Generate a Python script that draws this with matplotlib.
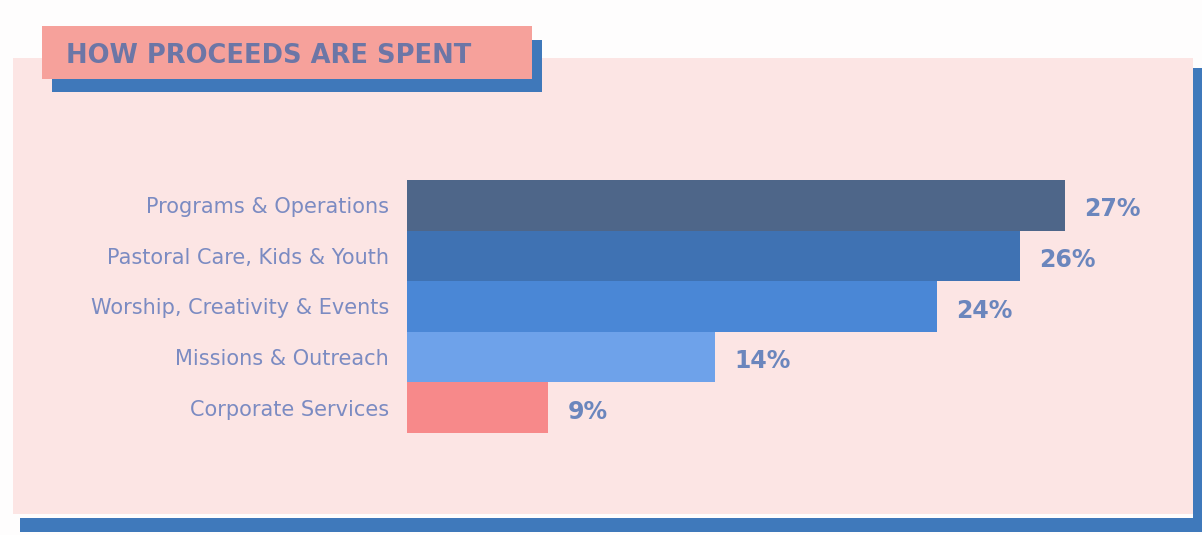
import matplotlib.pyplot as plt
from matplotlib.patches import Rectangle

categories = ['Programs & Operations', 'Pastoral Care, Kids & Youth',
              'Worship, Creativity & Events', 'Missions & Outreach',
              'Corporate Services']
value_labels = ['27%', '26%', '24%', '14%', '9%']
# bar lengths as drawn in the picture (not strictly proportional to the labels)
bar_lengths = [27.0, 25.15, 21.75, 12.64, 5.79]
bar_colors = ['#4e6689', '#3f72b3', '#4a87d6', '#6ea2ea', '#f7898a']

W, H = 1202, 535
fig = plt.figure(figsize=(W / 100, H / 100), dpi=100)
fig.patch.set_facecolor('#fefdfd')

# background decorations in pixel coordinates
bg = fig.add_axes([0, 0, 1, 1])
bg.set_xlim(0, W)
bg.set_ylim(H, 0)
bg.axis('off')
bg.add_patch(Rectangle((20, 518), 1182, 14, color='#3f79bb', lw=0))
bg.add_patch(Rectangle((1193, 68), 9, 464, color='#3f79bb', lw=0))
bg.add_patch(Rectangle((13, 58), 1180, 456, color='#fce5e4', lw=0))
bg.add_patch(Rectangle((52, 40), 490, 52, color='#3f78ba', lw=0))
bg.add_patch(Rectangle((42, 26), 490, 53, color='#f6a19b', lw=0))
bg.text(66, 56, 'HOW PROCEEDS ARE SPENT', fontsize=18.5, fontweight='bold',
        color='#6c76a6', va='center', ha='left')

# bar chart
px_per_unit = (1065 - 407) / 27.0
ax = fig.add_axes([407 / W, 1 - 433 / H, 30 * px_per_unit / W, 253 / H])
ax.set_facecolor('none')
y = range(len(categories))
ax.barh(y, bar_lengths, height=1.0, color=bar_colors, edgecolor='none')
ax.set_xlim(0, 30)
ax.set_ylim(len(categories) - 0.5, -0.5)
ax.set_yticks(list(y))
ax.set_yticklabels(categories, fontsize=15, color='#7b8bc2')
ax.tick_params(axis='y', length=0, pad=13)
ax.set_xticks([])
for s in ax.spines.values():
    s.set_visible(False)

for i, (v, lab) in enumerate(zip(bar_lengths, value_labels)):
    ax.annotate(lab, (v, i), xytext=(14, -3), textcoords='offset points',
                ha='left', va='center', fontsize=17, fontweight='bold',
                color='#6b86bd', annotation_clip=False)

fig.savefig('out.png', dpi=100, facecolor=fig.get_facecolor())
